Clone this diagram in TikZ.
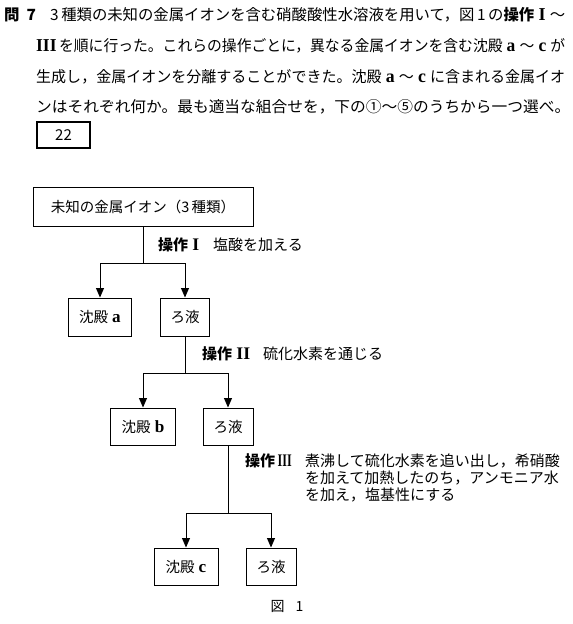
\documentclass[tikz,border=0pt]{standalone}
\usepackage{fontspec}
\usepackage{graphicx}
\setmainfont{Noto Sans CJK JP}
\newfontfamily\lsb{Liberation Serif}
\usetikzlibrary{arrows.meta}
\newcommand{\La}[1]{\scalebox{1.18}{\lsb\bfseries #1}}
\newcommand{\fitw}[2]{\resizebox{#1}{\height}{#2}}
\begin{document}
\begin{tikzpicture}[x=1pt,y=-1pt,
  qline/.style={anchor=base west,inner sep=0pt,font=\fontsize{15.4}{18}\selectfont},
  lab/.style={anchor=base west,inner sep=0pt,font=\fontsize{15}{17}\selectfont},
  boxn/.style={draw,line width=1pt,inner sep=0pt,font=\fontsize{14.5}{17}\selectfont},
  conn/.style={line width=0.9pt},
  arr/.style={line width=0.9pt,-{Triangle[length=9.5pt,width=8pt]}}]
\useasboundingbox (0,0) rectangle (573,624);
% question text
\node[qline] (q0) at (4,20) {\bfseries 問\hspace{0.45em}7};
\node[qline] (q1) at (50,20) {\fitw{515pt}{3\,種類の未知の金属イオンを含む硝酸酸性水溶液を用いて，図\,1\,の{\bfseries 操作}\;\La{I}\;～}};
\node[qline] (q2) at (36,51) {\fitw{529pt}{\La{III}\,を順に行った。これらの操作ごとに，異なる金属イオンを含む沈殿\;\La{a}\;～\;\La{c}\;が}};
\node[qline] (q3) at (36,82) {\fitw{529pt}{生成し，金属イオンを分離することができた。沈殿\;\La{a}\;～\;\La{c}\;に含まれる金属イオ}};
\node[qline] (q4) at (36,112) {\fitw{534pt}{ンはそれぞれ何か。最も適当な組合せを，下の①～⑤のうちから一つ選べ。}};
\node[draw,line width=1.2pt,inner sep=0pt,minimum width=53pt,minimum height=26pt,font=\fontsize{15}{17}\selectfont] (ans) at (63.5,135) {22};
% boxes
\node[boxn,minimum width=220pt,minimum height=39pt] (top) at (143,206.5) {未知の金属イオン（3\,種類）};
\node[boxn,minimum width=63pt,minimum height=38pt] (a) at (100,317) {沈殿\;\La{a}};
\node[boxn,minimum width=49pt,minimum height=38pt] (r1) at (185,317) {ろ液};
\node[boxn,minimum width=65pt,minimum height=37pt] (b) at (143,426.5) {沈殿\;\La{b}};
\node[boxn,minimum width=50pt,minimum height=37pt] (r2) at (228,426.5) {ろ液};
\node[boxn,minimum width=64pt,minimum height=37pt] (c) at (186,566.5) {沈殿\;\La{c}};
\node[boxn,minimum width=50pt,minimum height=37pt] (r3) at (271,566.5) {ろ液};
% junctions
\coordinate (j1) at (143,263);
\coordinate (j2) at (185,373);
\coordinate (j3) at (228,513);
\draw[conn] (top.south) -- (j1);
\draw[arr] (j1) -| (a.north);
\draw[arr] (j1) -| (r1.north);
\draw[conn] (r1.south) -- (j2);
\draw[arr] (j2) -| (b.north);
\draw[arr] (j2) -| (r2.north);
\draw[conn] (r2.south) -- (j3);
\draw[arr] (j3) -| (c.north);
\draw[arr] (j3) -| (r3.north);
% operation labels
\node[lab] (op1) at (158,250) {\bfseries 操作\;\La{I}};
\node[lab] (op1t) at (213,250) {塩酸を加える};
\node[lab] (op2) at (202,359) {\bfseries 操作\;\La{II}};
\node[lab] (op2t) at (263,359) {硫化水素を通じる};
\node[lab] (op3) at (245,466) {\bfseries 操作\,\resizebox{14pt}{\height}{\La{III}}};
\node[lab] (op3a) at (305,466) {煮沸して硫化水素を追い出し，希硝酸};
\node[lab] (op3b) at (305,483) {を加えて加熱したのち，アンモニア水};
\node[lab] (op3c) at (305,500) {を加え，塩基性にする};
% caption
\node[inner sep=0pt,font=\fontsize{14}{16}\selectfont] (cap) at (287,606) {図\hspace{0.8em}1};
\end{tikzpicture}
\end{document}
